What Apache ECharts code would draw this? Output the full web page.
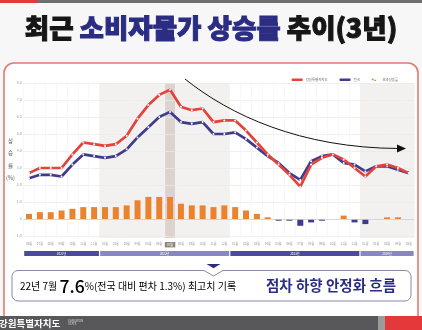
<!DOCTYPE html>
<html><head><meta charset="utf-8">
<script src="https://cdn.jsdelivr.net/npm/echarts@6/dist/echarts.min.js"></script>
<style>html,body{margin:0;padding:0;background:#f7f7f7}#c{width:422px;height:330px}</style>
</head><body><div id="c"></div>
<script>
// ---- data ----
const months = ['06월','07월','08월','09월','10월','11월','12월',
  '01월','02월','03월','04월','05월','06월','07월','08월','09월','10월','11월','12월',
  '01월','02월','03월','04월','05월','06월','07월','08월','09월','10월','11월','12월',
  '01월','02월','03월','04월','05월'];
const gangwon = [2.7,3.0,3.0,3.0,3.8,4.5,4.4,
  4.3,4.4,4.9,5.9,6.7,7.3,7.6,6.6,6.4,6.5,5.7,5.8,
  5.8,5.2,4.5,3.8,3.2,2.6,1.9,3.2,3.6,3.8,3.5,3.0,
  2.5,3.1,3.2,3.0,2.7];
const national = [2.4,2.6,2.6,2.5,3.2,3.8,3.7,
  3.6,3.7,4.1,4.8,5.4,6.0,6.3,5.7,5.6,5.7,5.0,5.0,
  5.1,4.7,4.2,3.7,3.3,2.7,2.3,3.4,3.7,3.8,3.3,3.2,
  2.8,3.1,3.1,2.9,2.7];
const excess = [0.3,0.4,0.4,0.5,0.6,0.7,0.7,
  0.7,0.7,0.8,1.1,1.3,1.3,1.3,0.9,0.8,0.8,0.7,0.8,
  0.7,0.5,0.3,0.1,-0.1,-0.1,-0.4,-0.2,-0.1,0,0.2,-0.2,
  -0.3,0,0.1,0.1,0];
const yearLabels = ['2021년','2022년','2023년','2024년'];
const yearStart = [0,7,19,31];
const yearEnd = [6,18,30,35];
const shadedYears = [1,3];
const highlightIndex = 13;
const seriesNames = ['강원특별자치도','전국','초과상승률'];
const yAxisTitle = '상\n승\n률\n(%)';

// ---- styles ----
const RED='#e3433b', NAVY='#3f3b8e', ORANGE='#e9832f';
const FONT='"Noto Sans CJK KR","Noto Sans",sans-serif';

const chart = echarts.init(document.getElementById('c'), null, {renderer:'canvas'});

const shadeData = shadedYears.map(k => [yearStart[k], yearEnd[k]]);
const yearData = yearStart.map((s,i) => [s, yearEnd[i]]);

const option = {
  animation:false,
  backgroundColor:'#f7f7f7',
  textStyle:{fontFamily:FONT},
  title:{
    left:'center', top:10,
    text:'{a|최근 }{b|소비자물가 상승률}{a| 추이(3년)}',
    textStyle:{rich:{
      a:{fontSize:26.5,fontWeight:900,color:'#161616',fontFamily:FONT,textBorderColor:'#161616',textBorderWidth:1},
      b:{fontSize:26.5,fontWeight:900,color:'#2b2d83',fontFamily:FONT,textBorderColor:'#2b2d83',textBorderWidth:1}
    }}
  },
  legend:{
    right:19, top:73, itemWidth:11, itemHeight:2.5, itemGap:12,
    textStyle:{fontSize:3.4,color:'#666',fontFamily:FONT, padding:[0,0,0,-2]},
    data:[
      {name:seriesNames[0], icon:'roundRect', itemStyle:{color:RED}},
      {name:seriesNames[1], icon:'roundRect', itemStyle:{color:NAVY}},
      {name:seriesNames[2], icon:'path://M0,0h5v5h-5z M7,4h5v3h-5z', itemStyle:{color:ORANGE}}
    ]
  },
  grid:{left:23.6, top:83, width:390.6, height:153, containLabel:false},
  xAxis:{
    type:'category', data:months, boundaryGap:true,
    axisLine:{show:false}, axisTick:{show:false},
    splitLine:{show:true, lineStyle:{color:'#f1f1f1', width:0.6}},
    axisLabel:{interval:0, fontSize:3, color:'#999', margin:6,
      formatter:(v,i)=> i===highlightIndex ? '{h|'+v+'}' : v,
      rich:{h:{backgroundColor:'#8f847e',color:'#fff',fontSize:3,padding:[1.2,2.2]}}}
  },
  yAxis:{
    type:'value', min:-1, max:8, interval:1,
    axisLine:{show:false}, axisTick:{show:false},
    splitLine:{lineStyle:{color:'#e9e9e9', width:0.7}},
    axisLabel:{fontSize:3.5, color:'#999', margin:2,
      formatter:v=> v===0 ? '0' : v.toFixed(1)}
  },
  graphic:{elements:[
    {type:'rect', z:-20, shape:{x:0,y:0,width:37,height:3}, style:{fill:'#e3393a'}},
    {type:'rect', z:-20, shape:{x:37,y:0,width:385,height:3}, style:{fill:'#6f6f6f'}},
    {type:'rect', z:-20, shape:{x:4,y:63,width:414,height:285,r:10}, style:{fill:'#fff',stroke:'#e27a72',lineWidth:1.6}},
    {type:'text', z:10, style:{x:10.5, y:159.5, align:'center', verticalAlign:'middle', text:yAxisTitle,
      fontSize:5.5, lineHeight:12.6, fill:'#555', fontFamily:FONT}},
    // trend arrow
    {type:'bezierCurve', z:50, shape:{x1:185,y1:79,cpx1:230,cpy1:115,cpx2:300,cpy2:148,x2:399,y2:148.5},
      style:{stroke:'#111',lineWidth:1,fill:null}},
    {type:'polygon', z:50, shape:{points:[[406,148.5],[397,144.6],[397,152.4]]}, style:{fill:'#111'}},
    // callout
    {type:'rect', z:40, shape:{x:12,y:270.5,width:399,height:30.5,r:6}, style:{fill:'#fff',stroke:'#8a89a6',lineWidth:1}},
    {type:'polygon', z:41, shape:{points:[[204,269],[223,269],[223,272],[204,272]]}, style:{fill:'#fff'}},
    {type:'polyline', z:42, shape:{points:[[204,270.5],[213.5,276],[223,270.5]]}, style:{stroke:'#8a89a6',lineWidth:1,fill:null}},
    {type:'polygon', z:42, shape:{points:[[206.5,264],[220.5,264],[213.5,268.2]]}, style:{fill:'#2f2d7a'}},
    {type:'text', z:43, style:{x:20, y:286, verticalAlign:'middle', align:'left',
      text:'{a|22년 7월 }{r|7.6}{a|%(전국 대비 편차 1.3%) 최고치 기록}',
      rich:{a:{fontSize:10,color:'#222',fontFamily:FONT},
            r:{fontSize:17.5,color:'#e0302d',fontFamily:FONT,fontWeight:500}}}},
    {type:'text', z:43, style:{x:331, y:285, verticalAlign:'middle', align:'center',
      text:'점차 하향 안정화 흐름', fontSize:14.5, fontWeight:'bold', fill:'#2b2d83', fontFamily:FONT}},
    // footer
    {type:'rect', z:60, shape:{x:0,y:316,width:378,height:14}, style:{fill:'#58585a'}},
    {type:'rect', z:60, shape:{x:378,y:316,width:7,height:14}, style:{fill:'#9b9b9b'}},
    {type:'rect', z:60, shape:{x:385,y:316,width:37,height:14}, style:{fill:'#e3393a'}},
    {type:'text', z:61, style:{x:-1,y:323,verticalAlign:'middle',text:'강원특별자치도',fontSize:9.5,fontWeight:'bold',fill:'#fff',fontFamily:FONT}},
    {type:'text', z:61, style:{x:68,y:322.5,verticalAlign:'middle',text:'GANGWON\nSTATE',fontSize:3,lineHeight:3.4,fill:'#ddd',fontFamily:FONT}}
  ]},
  series:[
    {type:'custom', name:'shade', z:-5, silent:true, data:shadeData,
      renderItem:(p,api)=>{
        const w = api.size([1,0])[0];
        const a = api.coord([api.value(0), 8]), b = api.coord([api.value(1), -1]);
        return {type:'rect', shape:{x:a[0]-w/2, y:a[1], width:b[0]-a[0]+w, height:b[1]-a[1]+2}, style:{fill:'#f3f1f0'}};
      }},
    {type:'custom', name:'highlight', z:-4, silent:true, data:[[highlightIndex]],
      renderItem:(p,api)=>{
        const w = api.size([1,0])[0];
        const a = api.coord([api.value(0), 8]), b = api.coord([api.value(0), -1]);
        return {type:'rect', shape:{x:a[0]-w/2+0.5, y:a[1], width:w-1, height:b[1]-a[1]+2}, style:{fill:'#ddd3ce'}};
      }},
    {type:'custom', name:'years', z:5, silent:true, clip:false, data:yearData,
      renderItem:(p,api)=>{
        const w = api.size([1,0])[0];
        const a = api.coord([api.value(0), -1]), b = api.coord([api.value(1), -1]);
        const x0 = a[0]-w/2+0.6, x1 = b[0]+w/2-0.6, y = a[1]+15;
        const col = p.dataIndex % 2 === 0 ? '#4c4a9c' : '#8985c7';
        return {type:'group', children:[
          {type:'rect', shape:{x:x0,y:y,width:x1-x0,height:5}, style:{fill:col}},
          {type:'text', style:{x:(x0+x1)/2, y:y+2.6, text:yearLabels[p.dataIndex], align:'center', verticalAlign:'middle', fill:'#fff', fontSize:3, fontFamily:FONT}}
        ]};
      }},
    {type:'bar', name:seriesNames[2], data:excess, barWidth:6, z:3,
      itemStyle:{color:p=> p.value>=0 ? ORANGE : NAVY},
      markLine:{silent:true, symbol:'none', label:{show:false}, data:[{yAxis:0}], lineStyle:{color:'#cfcfcf',width:0.8,type:'solid'}}},
    {type:'line', name:seriesNames[1], data:national, z:6,
      lineStyle:{color:NAVY,width:2.7}, symbol:'circle', symbolSize:2, showSymbol:true,
      itemStyle:{color:'#fff',borderWidth:0}},
    {type:'line', name:seriesNames[0], data:gangwon, z:7,
      lineStyle:{color:RED,width:2.7}, symbol:'circle', symbolSize:2, showSymbol:true,
      itemStyle:{color:'#fff',borderWidth:0}}
  ]
};
chart.setOption(option);
</script>
</body></html>
